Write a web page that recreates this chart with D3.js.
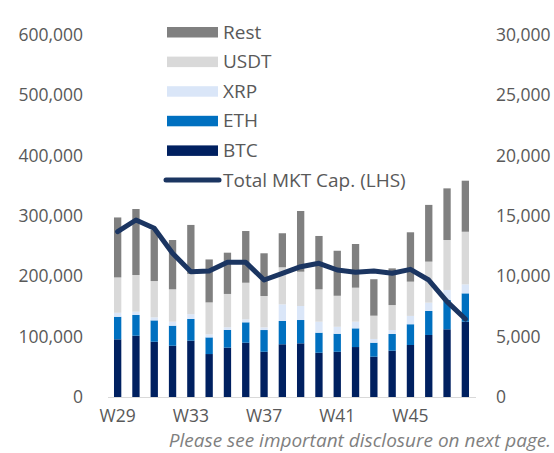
<!DOCTYPE html>
<html><head><meta charset="utf-8">
<script src="https://cdn.jsdelivr.net/npm/d3@7"></script>
<style>
body{margin:0;background:#fff;}
text{font-family:"Open Sans",sans-serif;}
</style></head>
<body><svg id="c" width="554" height="453"></svg>
<script>
const weeks = ["W29","W30","W31","W32","W33","W34","W35","W36","W37","W38","W39","W40","W41","W42","W43","W44","W45","W46","W47","W48"];
const btc  = [4780,5080,4580,4250,4670,3560,4090,4500,3750,4370,4450,3670,3750,4140,3340,3840,4310,5140,5610,6240];
const eth  = [1870,1715,1770,1660,1800,1380,1470,1690,1800,1930,1930,1660,1490,1550,1160,1380,1720,1990,2430,2350];
const xrp  = [330,275,250,330,390,250,220,250,220,1380,1160,910,580,550,310,330,690,690,830,745];
const usdt = [2930,3040,3010,2685,3340,2650,2760,3030,2600,3070,2845,2685,2570,2820,1930,2070,2840,3400,4140,4360];
const rest = [4970,5470,4230,4085,4060,3560,3420,4285,3540,2820,5030,4420,3730,3620,3020,3040,4090,4700,4280,4230];
const totalMktCap = [274000,293400,279600,238200,207700,208800,223200,223200,193900,205000,216000,221600,210500,206700,208800,205000,211600,193900,158000,129300];
const xTickLabels = ["W29","W33","W37","W41","W45"];
const leftTicks = [0,100000,200000,300000,400000,500000,600000];
const rightTicks = [0,5000,10000,15000,20000,25000,30000];

const seriesNames = ["BTC","ETH","XRP","USDT","Rest"];
const seriesVals = [btc,eth,xrp,usdt,rest];
const colors = {BTC:"#002060",ETH:"#0070C0",XRP:"#DAE6F8",USDT:"#D9D9D9",Rest:"#808080"};
const lineColor = "#1B3561";
const txt = "#595959";

const svg = d3.select("#c");
const x = d3.scaleBand().domain(weeks).range([108.5,474.5]).paddingInner(0.6).paddingOuter(0.3);
const yL = d3.scaleLinear().domain([0,600000]).range([397,35]);
const yR = d3.scaleLinear().domain([0,30000]).range([397,35]);

const table = weeks.map((w,i)=>{const o={week:w}; seriesNames.forEach((s,j)=>o[s]=seriesVals[j][i]); return o;});
const stack = d3.stack().keys(seriesNames)(table);

svg.append("g").selectAll("g").data(stack).join("g")
  .attr("fill",d=>colors[d.key])
  .selectAll("rect").data(d=>d).join("rect")
  .attr("x",d=>x(d.data.week))
  .attr("width",x.bandwidth())
  .attr("y",d=>yR(d[1]))
  .attr("height",d=>yR(d[0])-yR(d[1]));

// baseline
svg.append("line").attr("x1",108).attr("x2",476).attr("y1",397.5).attr("y2",397.5)
  .attr("stroke","#D9D9D9").attr("stroke-width",1.2);

// line
const line = d3.line().x((d,i)=>x(weeks[i])+x.bandwidth()/2).y(d=>yL(d));
svg.append("path").datum(totalMktCap).attr("d",line)
  .attr("fill","none").attr("stroke",lineColor).attr("stroke-width",5)
  .attr("stroke-linejoin","round").attr("stroke-linecap","round");

const fs = "17.5px";
// left axis
const fmt = d3.format(",");
const la = d3.axisLeft(yL).tickValues(leftTicks).tickFormat(fmt).tickSize(0).tickPadding(0);
const gL = svg.append("g").attr("transform","translate(83,0)").call(la);
gL.select(".domain").remove();
gL.selectAll("text").attr("fill",txt).style("font-size",fs).attr("font-family","Open Sans");
// right axis
const ra = d3.axisRight(yR).tickValues(rightTicks).tickFormat(fmt).tickSize(0).tickPadding(0);
const gR = svg.append("g").attr("transform","translate(496,0)").call(ra);
gR.select(".domain").remove();
gR.selectAll("text").attr("fill",txt).style("font-size",fs).attr("font-family","Open Sans");
// x axis
const xa = d3.axisBottom(x).tickValues(xTickLabels).tickSize(0).tickPadding(0);
const gX = svg.append("g").attr("transform","translate(0,410)").call(xa);
gX.select(".domain").remove();
gX.selectAll("text").attr("fill",txt).style("font-size",fs).attr("font-family","Open Sans");

// legend
const lfs = "19px";
const legendItems = ["Rest","USDT","XRP","ETH","BTC"];
const lg = svg.append("g");
legendItems.forEach((s,i)=>{
  const cy = 32 + i*29.6;
  lg.append("rect").attr("x",167).attr("y",cy-5).attr("width",51).attr("height",10.5).attr("fill",colors[s]);
  lg.append("text").attr("x",223).attr("y",cy).attr("dy","0.35em").attr("fill",txt).style("font-size",lfs).text(s);
});
const ly = 32 + 5*29.6;
lg.append("line").attr("x1",166).attr("x2",219).attr("y1",ly).attr("y2",ly)
  .attr("stroke",lineColor).attr("stroke-width",5).attr("stroke-linecap","round");
lg.append("text").attr("x",223).attr("y",ly).attr("dy","0.35em").attr("fill",txt).style("font-size",lfs).text("Total MKT Cap. (LHS)");

svg.append("text").attr("x",551).attr("y",447).attr("text-anchor","end")
  .attr("fill","#7F7F7F").style("font-size","19px").style("font-style","italic")
  .text("Please see important disclosure on next page.");
</script></body></html>
